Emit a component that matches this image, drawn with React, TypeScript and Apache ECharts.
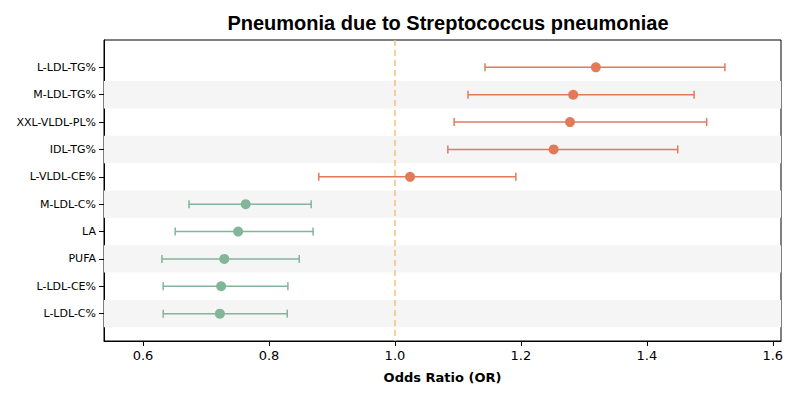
import React, { useEffect, useRef } from "react";
import * as echarts from "echarts";

const traits = ["L-LDL-TG%", "M-LDL-TG%", "XXL-VLDL-PL%", "IDL-TG%", "L-VLDL-CE%", "M-LDL-C%", "LA", "PUFA", "L-LDL-CE%", "L-LDL-C%"];
const orValues = [1.319, 1.283, 1.278, 1.252, 1.024, 0.763, 0.751, 0.729, 0.724, 0.722];
const lowerCI = [1.143, 1.116, 1.094, 1.084, 0.879, 0.673, 0.651, 0.630, 0.632, 0.632];
const upperCI = [1.524, 1.475, 1.495, 1.449, 1.192, 0.867, 0.870, 0.848, 0.830, 0.829];
const xTicks = [0.6, 0.8, 1.0, 1.2, 1.4, 1.6];

const RED = "#E07B5A";
const GREEN = "#82B59A";
const colorOf = (v: number) => (v > 1 ? RED : GREEN);

const App: React.FC = () => {
  const ref = useRef<HTMLDivElement>(null);

  useEffect(() => {
    if (!ref.current) return;
    const chart = echarts.init(ref.current, null, { renderer: "svg" });

    const bands = traits
      .map((_, i) => i)
      .filter((i) => i % 2 === 1)
      .map((i) => [{ yAxis: i - 0.5, xAxis: 0.538 }, { yAxis: i + 0.5, xAxis: 1.613 }]);

    chart.setOption({
      animation: false,
      textStyle: { fontFamily: "DejaVu Sans" },
      title: {
        text: "Pneumonia due to Streptococcus pneumoniae",
        left: 443,
        textAlign: "center",
        top: 8,
        textStyle: { fontSize: 20, fontWeight: "bold", color: "#000", fontFamily: "Liberation Sans" },
      },
      grid: { left: 104, right: 19, top: 40, bottom: 59, show: true, borderColor: "#000", borderWidth: 1 },
      xAxis: {
        type: "value",
        min: 0.538,
        max: 1.613,
        name: "Odds Ratio (OR)",
        nameLocation: "middle",
        nameGap: 30,
        nameTextStyle: { fontSize: 13, fontWeight: "bold", color: "#000" },
        axisLine: { show: true, onZero: false, lineStyle: { color: "#000" } },
        axisTick: { show: true, customValues: xTicks, lineStyle: { color: "#000" } },
        axisLabel: { customValues: xTicks, fontSize: 13, color: "#000", formatter: (v: number) => v.toFixed(1) },
        splitLine: { show: false },
      },
      yAxis: {
        type: "value",
        min: -1,
        max: 10,
        inverse: true,
        interval: 1,
        axisLine: { show: true, onZero: false, lineStyle: { color: "#000" } },
        axisTick: { show: true, customValues: traits.map((_, i) => i), lineStyle: { color: "#000" } },
        axisLabel: {
          customValues: traits.map((_, i) => i),
          fontSize: 11,
          color: "#000",
          formatter: (v: number) => traits[v] ?? "",
        },
        splitLine: { show: false },
      },
      series: [
        {
          type: "custom",
          data: traits.map((_, i) => [lowerCI[i], upperCI[i], i, orValues[i]]),
          renderItem: (params: any, api: any) => {
            const lo = api.coord([api.value(0), api.value(2)]);
            const hi = api.coord([api.value(1), api.value(2)]);
            const c = colorOf(api.value(3));
            const st = { stroke: c, lineWidth: 1.5 };
            return {
              type: "group",
              children: [
                { type: "line", shape: { x1: lo[0], y1: lo[1], x2: hi[0], y2: hi[1] }, style: st },
                { type: "line", shape: { x1: lo[0], y1: lo[1] - 4, x2: lo[0], y2: lo[1] + 4 }, style: st },
                { type: "line", shape: { x1: hi[0], y1: hi[1] - 4, x2: hi[0], y2: hi[1] + 4 }, style: st },
              ],
            };
          },
          markArea: { silent: true, itemStyle: { color: "#f5f5f5" }, data: bands },
          markLine: {
            silent: true,
            symbol: "none",
            label: { show: false },
            lineStyle: { color: "#F2C27A", type: [6, 4], width: 1.5 },
            data: [{ xAxis: 1.0 }],
          },
          z: 2,
        },
        {
          type: "scatter",
          data: traits.map((_, i) => ({ value: [orValues[i], i], itemStyle: { color: colorOf(orValues[i]), opacity: 1 } })),
          symbolSize: 10,
          z: 3,
        },
      ],
    });

    return () => chart.dispose();
  }, []);

  return <div ref={ref} style={{ width: 800, height: 400, margin: -8 }} />;
};

export default App;
